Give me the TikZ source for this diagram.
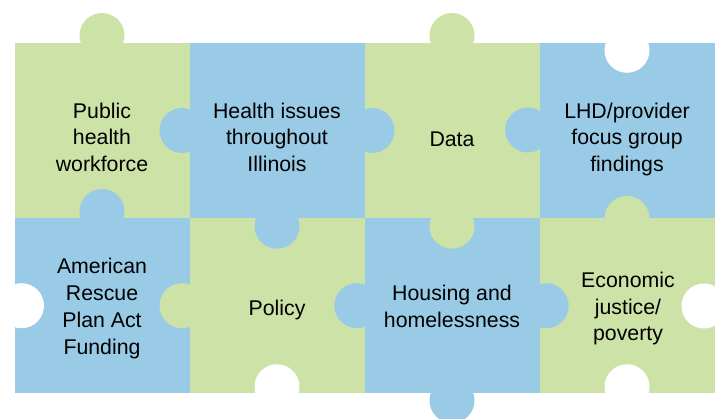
\documentclass[tikz,border=0pt]{standalone}
\usepackage{fontspec}
\setmainfont{Liberation Sans}
\definecolor{puzzlegreen}{HTML}{CDE2A6}
\definecolor{puzzleblue}{HTML}{99CBE6}
\tikzset{
  teiltext/.style={align=center, inner sep=0pt,
    font=\fontsize{21.3}{26.7}\selectfont,
    execute at begin node=\strut, execute at end node=\strut},
  nase/.style={fill=#1},
}
\begin{document}
\begin{tikzpicture}[x=1pt, y=-1pt]
        \useasboundingbox (0,0) rectangle (717,419);
        \clip (0,0) rectangle (717,419);
        % Felder
        \fill [puzzlegreen] ( 14.5, 43) rectangle (189.5, 218);
        \fill [puzzleblue]  (189.5, 43) rectangle (364.5, 218);
        \fill [puzzlegreen] (364.5, 43) rectangle (539.5, 218);
        \fill [puzzleblue]  (539.5, 43) rectangle (714.5, 218);
        \fill [puzzleblue]  ( 14.5,218) rectangle (189.5, 393.3);
        \fill [puzzlegreen] (189.5,218) rectangle (364.5, 393.3);
        \fill [puzzleblue]  (364.5,218) rectangle (539.5, 393.3);
        \fill [puzzlegreen] (539.5,218) rectangle (714.5, 393.3);
        % Nasen
        \fill [nase=puzzlegreen] (102,   35.5)  circle (22.5);
        \fill [nase=puzzlegreen] (452,   35.5)  circle (22.5);
        \fill [nase=puzzleblue]  (182,  130.5)  circle (22.5);
        \fill [nase=puzzleblue]  (372,  130.5)  circle (22.5);
        \fill [nase=puzzleblue]  (527.7,130)    circle (22.5);
        \fill [nase=puzzleblue]  (102,  211.5)  circle (22.5);
        \fill [nase=puzzleblue]  (277,  226.2)  circle (22.5);
        \fill [nase=puzzlegreen] (452,  226.2)  circle (22.5);
        \fill [nase=puzzlegreen] (627,  218.5)  circle (22.5);
        \fill [nase=puzzlegreen] (182,  305.7)  circle (22.5);
        \fill [nase=puzzleblue]  (356.8,305.7)  circle (22.5);
        \fill [nase=puzzleblue]  (546.2,305.7)  circle (22.5);
        \fill [nase=puzzleblue]  (452,  400.5)  circle (22.5);
        % Loecher
        \fill [nase=white] (627,  50.3)  circle (22.5);
        \fill [nase=white] ( 21.5,305.7) circle (22.5);
        \fill [nase=white] (704,  306)   circle (22.5);
        \fill [nase=white] (277,  386.8) circle (22.5);
        \fill [nase=white] (627,  386.8) circle (22.5);
        % Texte
        \node [teiltext] (workforce) at (102, 141) {Public\\health\\workforce};
        \node [teiltext] (issues)    at (277, 141) {Health issues\\throughout\\Illinois};
        \node [teiltext] (data)      at (452, 141) {Data};
        \node [teiltext] (findings)  at (627, 141) {LHD/provider\\focus group\\findings};
        \node [teiltext] (funding)   at (102, 310.3) {American\\Rescue\\Plan Act\\Funding};
        \node [teiltext] (policy)    at (277, 310.3) {Policy};
        \node [teiltext] (housing)   at (452, 310.3) {Housing and\\homelessness};
        \node [teiltext] (poverty)   at (628, 310.3) {Economic\\justice/\\poverty};
    \end{tikzpicture}
\end{document}
